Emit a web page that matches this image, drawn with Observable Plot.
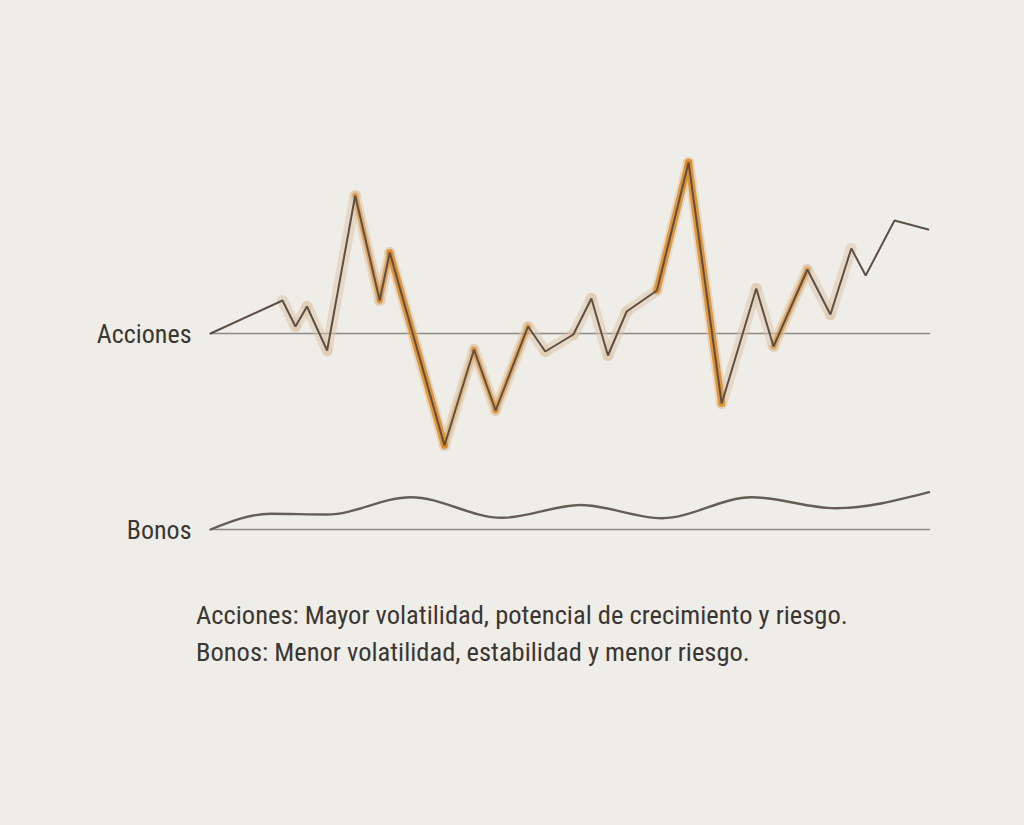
<!DOCTYPE html>
<html>
<head>
<meta charset="utf-8">
<script src="https://cdn.jsdelivr.net/npm/d3@7"></script>
<script src="https://cdn.jsdelivr.net/npm/@observablehq/plot@0.6"></script>
<style>
  html, body { margin: 0; padding: 0; background: #efede8; }
  #wrap { position: relative; width: 1024px; height: 825px; overflow: hidden; background: #efede8; }
  #chart { position: absolute; left: 0; top: 0; }
  #caption {
    position: absolute; left: 196px; top: 596px;
    font-family: "Liberation Sans Narrow", "Roboto Condensed", "DejaVu Sans Condensed", sans-serif;
    font-size: 26.5px; line-height: 37px; color: #3b3631; white-space: nowrap;
  }
</style>
</head>
<body>
<div id="wrap">
  <div id="chart"></div>
  <div id="caption"></div>
</div>
<script>
// ---- data ----
const seriesNames = ["Acciones", "Bonos"];
const captionLines = [
  "Acciones: Mayor volatilidad, potencial de crecimiento y riesgo.",
  "Bonos: Menor volatilidad, estabilidad y menor riesgo."
];

// Acciones: time position (0–100) and value relative to its baseline
const accionesX = [0, 10, 11.8, 13.4, 16.2, 20.1, 23.5, 24.9, 32.5, 36.6, 39.6, 44.1, 46.5, 50.4, 52.9, 55.2, 57.8, 62.0, 66.4, 71.0, 75.8, 78.2, 82.9, 86.1, 89.0, 91.0, 95.0, 99.7];
const accionesY = [0, 3.3, 0.7, 2.7, -1.7, 13.8, 3.3, 8.1, -11.2, -1.6, -7.7, 0.7, -1.8, -0.1, 3.5, -2.2, 2.2, 4.3, 17.1, -7.0, 4.5, -1.3, 6.4, 1.9, 8.5, 5.8, 11.3, 10.4];
// highlight intensity of each segment (0 none, 1 light, 2 medium, 3 strong)
const accionesGlow = [0, 1, 1, 1, 1, 2, 2, 3, 1.5, 2, 2, 1, 1, 1, 1, 1, 1, 3, 3, 1, 1, 2, 1, 1, 0, 0, 0];

// Bonos: time position and value relative to its baseline
const bonosX = [0, 8.3, 16.2, 27.8, 40.5, 51.4, 62.7, 75.2, 86.8, 99.8];
const bonosY = [0, 1.57, 1.5, 3.23, 1.17, 2.45, 1.13, 3.23, 2.13, 3.73];

// vertical offset of each row's baseline
const rowOffset = {Acciones: 0, Bonos: -19.6};

// ---- tables ----
const acciones = accionesX.map((x, i) => ({x, y: accionesY[i] + rowOffset.Acciones}));
const bonos = bonosX.map((x, i) => ({x, y: bonosY[i] + rowOffset.Bonos}));
const segments = accionesGlow.map((g, i) => ({
  x1: acciones[i].x, y1: acciones[i].y, x2: acciones[i + 1].x, y2: acciones[i + 1].y, g
}));
const rows = seriesNames.map(name => ({name, y: rowOffset[name]}));

const halo = segments.filter(d => d.g >= 1);
const orange = segments.filter(d => d.g >= 1.5);

const chart = Plot.plot({
  width: 1024,
  height: 580,
  marginLeft: 210,
  marginRight: 94,
  marginTop: 143,
  marginBottom: 27,
  x: {domain: [0, 100], axis: null},
  y: {domain: [-22, 19], axis: null},
  style: {background: "transparent", overflow: "visible"},
  marks: [
    Plot.ruleY(rows, {y: "y", x1: 0, x2: 100, stroke: "#8e8a85", strokeWidth: 1.3}),
    Plot.link(halo, {x1: "x1", y1: "y1", x2: "x2", y2: "y2", stroke: "#dcc3a6", strokeWidth: 11, strokeOpacity: 0.5, strokeLinecap: "round"}),
    Plot.link(orange, {x1: "x1", y1: "y1", x2: "x2", y2: "y2", stroke: "#e0891f",
      strokeWidth: d => d.g >= 3 ? 7 : 6,
      strokeOpacity: d => d.g >= 3 ? 0.85 : d.g >= 2 ? 0.6 : 0.35, strokeLinecap: "round"}),
    Plot.line(acciones, {x: "x", y: "y", stroke: "#5c4f45", strokeWidth: 2, strokeLinejoin: "miter"}),
    Plot.line(bonos, {x: "x", y: "y", curve: "monotone-x", stroke: "#665d55", strokeWidth: 2.4}),
    Plot.text(rows, {x: 0, y: "y", text: "name", textAnchor: "end", dx: -19, dy: 1,
      fontSize: 26, fill: "#3b3631",
      fontFamily: "'Liberation Sans Narrow', 'Roboto Condensed', 'DejaVu Sans Condensed', sans-serif"})
  ]
});
document.getElementById("chart").appendChild(chart);
document.getElementById("caption").innerHTML = captionLines.map(t => `<div>${t}</div>`).join("");
</script>
</body>
</html>
